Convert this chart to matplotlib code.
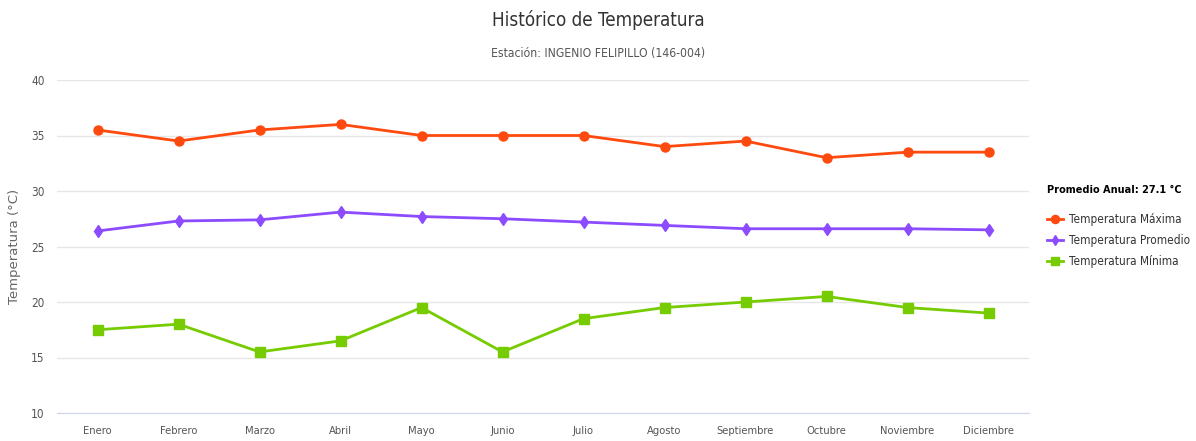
import matplotlib
matplotlib.use("Agg")
import matplotlib.pyplot as plt

plt.rcParams["font.family"] = ["DejaVu Sans"]
plt.rcParams["font.stretch"] = "condensed"

MESES = ["Enero", "Febrero", "Marzo", "Abril", "Mayo", "Junio", "Julio",
         "Agosto", "Septiembre", "Octubre", "Noviembre", "Diciembre"]
T_MAX = [35.5, 34.5, 35.5, 36.0, 35.0, 35.0, 35.0, 34.0, 34.5, 33.0, 33.5, 33.5]
T_PROM = [26.4, 27.3, 27.4, 28.1, 27.7, 27.5, 27.2, 26.9, 26.6, 26.6, 26.6, 26.5]
T_MIN = [17.5, 18.0, 15.5, 16.5, 19.5, 15.5, 18.5, 19.5, 20.0, 20.5, 19.5, 19.0]
YTICKS = [10, 15, 20, 25, 30, 35, 40]
PROMEDIO_ANUAL = 27.1

ROJO = "#ff4a0f"
VIOLETA = "#8c4bff"
VERDE = "#76cc00"

fig = plt.figure(figsize=(11.96, 4.41), dpi=100)
ax = fig.add_axes([57 / 1196, 1 - 413 / 441, (1029 - 57) / 1196, (413 - 80) / 441])

x = range(len(MESES))
ax.plot(x, T_MAX, color=ROJO, lw=2, marker="o", ms=6.5, label="Temperatura Máxima")
ax.plot(x, T_PROM, color=VIOLETA, lw=2, marker="d", ms=6, label="Temperatura Promedio")
ax.plot(x, T_MIN, color=VERDE, lw=2, marker="s", ms=6.5, label="Temperatura Mínima")

ax.set_xlim(-0.5, len(MESES) - 0.5)
ax.set_ylim(10, 40)
ax.set_yticks(YTICKS)
ax.set_xticks(list(x))
ax.set_xticklabels(MESES)
ax.tick_params(length=0, labelsize=8, colors="#555555", pad=9)
ax.tick_params(axis="y", labelsize=8.5, pad=9)
ax.grid(axis="y", color="#e6e6e6", lw=1)
ax.set_axisbelow(True)
for side in ["top", "right", "left"]:
    ax.spines[side].set_visible(False)
ax.spines["bottom"].set_color("#ccd6eb")
ax.set_ylabel("Temperatura (°C)", color="#666666", fontsize=9.5,
              fontstretch="normal", labelpad=7)

fig.text(0.5, 0.955, "Histórico de Temperatura", ha="center", va="center",
         fontsize=13.5, color="#333333")
fig.text(0.5, 0.878, "Estación: INGENIO FELIPILLO (146-004)", ha="center",
         va="center", fontsize=8.7, color="#555555")

leg = fig.legend(loc="upper left", bbox_to_anchor=(1036 / 1196, 1 - 174 / 441),
                 frameon=False, fontsize=8.5, handlelength=1.4,
                 handletextpad=0.5, labelspacing=0.7, markerscale=0.9,
                 title=f"Promedio Anual: {PROMEDIO_ANUAL} °C",
                 title_fontproperties={"weight": "bold", "size": 7.8,
                                       "stretch": "condensed"})
leg._legend_box.align = "left"
leg._legend_box.sep = 13
for t in leg.get_texts():
    t.set_color("#333333")

fig.savefig("out.png", dpi=100)
